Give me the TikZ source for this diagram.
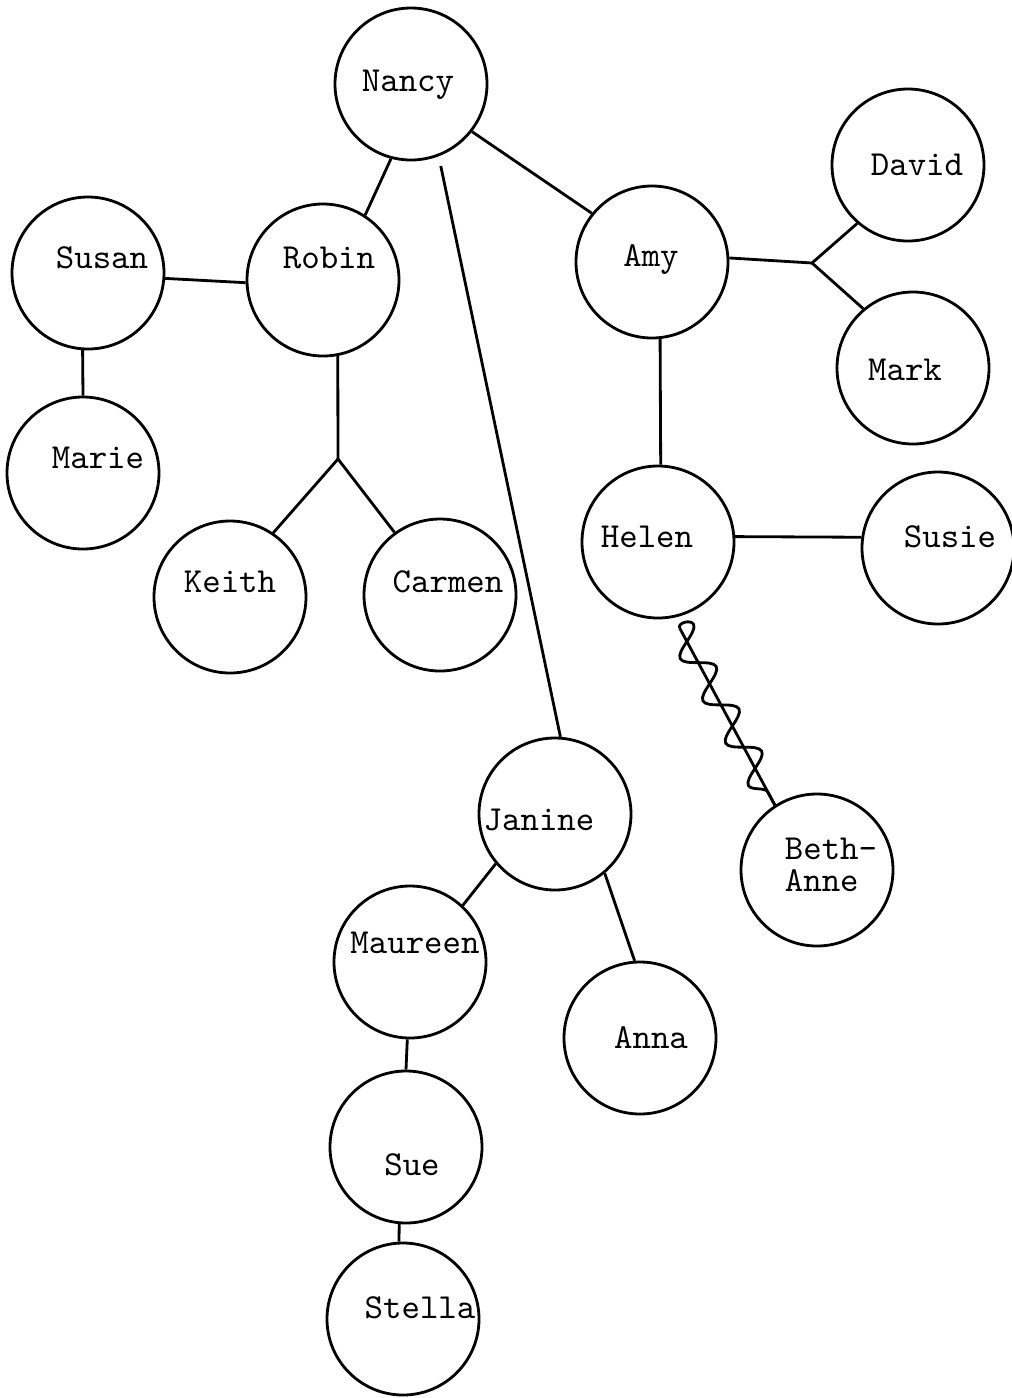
\documentclass[tikz,border=0pt]{standalone}
\usetikzlibrary{decorations.pathmorphing}

\begin{document}
\begin{tikzpicture}[x=0.1mm, y=-0.1mm]
    \tikzstyle{person_style} = [draw, circle, line width=0.8pt, minimum size=15.2mm, inner sep=0pt]
    \tikzstyle{name_style} = [font=\ttfamily\fontsize{10}{9.2}\selectfont, inner sep=0pt]
    \tikzstyle{edge_style} = [-, black, line width=0.8pt]
    \tikzstyle{wave_style} = [edge_style, decorate, decoration={snake, amplitude=1.4mm, segment length=4.8mm}]

    \useasboundingbox (0,0) rectangle (1012,1398);

    \node[person_style] (nancy) at (411,84) {};
    \node[person_style] (david) at (908,165) {};
    \node[person_style] (susan) at (88,273) {};
    \node[person_style] (robin) at (323,280) {};
    \node[person_style] (amy) at (652,262) {};
    \node[person_style] (mark) at (913,368) {};
    \node[person_style] (marie) at (83,473) {};
    \node[person_style] (helen) at (658,542) {};
    \node[person_style] (susie) at (938,548) {};
    \node[person_style] (keith) at (230,597) {};
    \node[person_style] (carmen) at (440,595) {};
    \node[person_style] (janine) at (555,814) {};
    \node[person_style] (bethanne) at (817,870) {};
    \node[person_style] (maureen) at (410,962) {};
    \node[person_style] (anna) at (640,1038) {};
    \node[person_style] (sue) at (406,1147) {};
    \node[person_style] (stella) at (403,1319) {};

    \node[name_style] (nancy_name) at (408,85) {Nancy};
    \node[name_style] (david_name) at (917,165) {David};
    \node[name_style] (susan_name) at (102,258) {Susan};
    \node[name_style] (robin_name) at (329,258) {Robin};
    \node[name_style] (amy_name) at (651,260) {Amy};
    \node[name_style] (mark_name) at (905,370) {Mark};
    \node[name_style] (marie_name) at (98,458) {Marie};
    \node[name_style] (helen_name) at (647,537) {Helen};
    \node[name_style] (susie_name) at (950,537) {Susie};
    \node[name_style] (keith_name) at (230,582) {Keith};
    \node[name_style] (carmen_name) at (448,582) {Carmen};
    \node[name_style] (janine_name) at (539,820) {Janine};
    \node[name_style, align=left] (bethanne_name) at (831,865) {Beth-\\Anne};
    \node[name_style] (maureen_name) at (415,943) {Maureen};
    \node[name_style] (anna_name) at (651,1038) {Anna};
    \node[name_style] (sue_name) at (412,1165) {Sue};
    \node[name_style] (stella_name) at (420,1308) {Stella};

    \coordinate (robin_fork) at (338,459);
    \coordinate (amy_fork) at (812,263);

    \draw[edge_style] (nancy.255) -- (robin.57);
    \draw[edge_style] (nancy.322) -- (amy.141);
    \draw[edge_style, shorten <=1mm] (nancy.291) -- (janine.86);
    \draw[edge_style] (susan.356) -- (robin.182);
    \draw[edge_style] (susan.266) -- (marie.90);
    \draw[edge_style] (robin.281) -- (robin_fork);
    \draw[edge_style] (keith.56) -- (robin_fork) -- (carmen.126);
    \draw[edge_style] (amy.3) -- (amy_fork);
    \draw[edge_style] (david.229) -- (amy_fork) -- (mark.130);
    \draw[edge_style] (amy.276) -- (helen.88);
    \draw[edge_style] (helen.4) -- (susie.172);
    \draw[edge_style, shorten <=1.2mm] (helen.282) -- (bethanne.123);
    \draw[wave_style, shorten <=1.2mm] (helen.282) -- (bethanne.123);
    \draw[edge_style] (janine.220) -- (maureen.47);
    \draw[edge_style] (janine.310) -- (anna.94);
    \draw[edge_style] (maureen.268) -- (sue.90);
    \draw[edge_style] (sue.265) -- (stella.93);
\end{tikzpicture}
\end{document}
